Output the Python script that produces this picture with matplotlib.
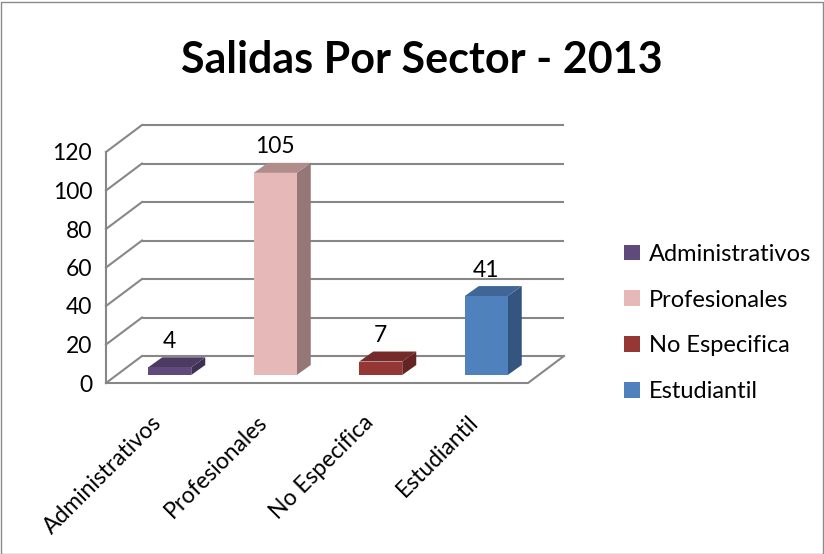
import matplotlib
matplotlib.use('Agg')
import matplotlib.pyplot as plt
from matplotlib.patches import Polygon, Patch, Rectangle

categories = ['Administrativos', 'Profesionales', 'No Especifica', 'Estudiantil']
values = [4, 105, 7, 41]
yticks = [0, 20, 40, 60, 80, 100, 120]
title = 'Salidas Por Sector - 2013'

front_colors = ['#604a7b', '#e6b9b8', '#953735', '#4f81bd']
top_colors = ['#4b3a61', '#b08c8b', '#742b2a', '#3f6696']
side_colors = ['#3f3151', '#947776', '#632423', '#345580']

plt.rcParams['font.family'] = ['Lato', 'DejaVu Sans']
W, H = 824, 554
FS = 16.5
fig = plt.figure(figsize=(W / 100, H / 100), dpi=100)
ax = fig.add_axes([106 / W, (H - 383) / H, 422 / W, 231 / H])
ax.set_xlim(-0.5, len(categories) - 0.5)
ax.set_ylim(0, 120)
for s in ax.spines.values():
    s.set_visible(False)
ax.patch.set_visible(False)
ax.set_yticks(yticks)
ax.set_yticklabels([str(t) for t in yticks], fontsize=FS)
ax.set_xticks(range(len(categories)))
ax.set_xticklabels(categories, rotation=45, ha='right', va='center',
                   rotation_mode='anchor', fontsize=FS)
ax.tick_params(axis='y', length=0, pad=10)
ax.tick_params(axis='x', length=0, pad=26)

# pixel -> data unit conversion
p0 = ax.transData.transform((0, 0))
p1 = ax.transData.transform((1, 1))
ux = 1.0 / (p1[0] - p0[0])
uy = 1.0 / (p1[1] - p0[1])

def off(px, py):
    return px * ux, py * uy

gc = '#878787'
glw = 1.5
xl, xr = -0.5, len(categories) - 0.5
bx, by = off(36, 27)

# back wall gridlines + left wall diagonals
for t in yticks:
    ax.plot([xl + bx, xr + bx], [t + by, t + by], color=gc, lw=glw, clip_on=False, zorder=1, solid_capstyle='butt')
    ax.plot([xl, xl + bx], [t, t + by], color=gc, lw=glw, clip_on=False, zorder=1)
ax.plot([xl, xl], [0, yticks[-1]], color=gc, lw=glw, clip_on=False, zorder=1)
# floor
ax.plot([xl, xr, xr + bx], [0, 0, by], color=gc, lw=glw, clip_on=False, zorder=1)

# bars
w = 43 * ux
fdx, fdy = off(11, 8)
ddx, ddy = off(14, 10)
for i, v in enumerate(values):
    x0 = i - w / 2 + fdx
    x1 = i + w / 2 + fdx
    y0 = fdy
    y1 = v + fdy
    ax.add_patch(Polygon([(x1, y0), (x1 + ddx, y0 + ddy), (x1 + ddx, y1 + ddy), (x1, y1)],
                         closed=True, fc=side_colors[i], ec='none', zorder=3, clip_on=False))
    ax.add_patch(Polygon([(x0, y1), (x1, y1), (x1 + ddx, y1 + ddy), (x0 + ddx, y1 + ddy)],
                         closed=True, fc=top_colors[i], ec='none', zorder=3, clip_on=False))
    ax.add_patch(Rectangle((x0, y0), w, v, fc=front_colors[i], ec='none', zorder=4, clip_on=False))
    ax.annotate(str(v), xy=(i + fdx, y1), xytext=(0, 26), textcoords='offset pixels',
                ha='center', va='center', fontsize=FS, zorder=5, annotation_clip=False)

fig.text(0.512, 1 - 60 / H, title, ha='center', va='center', fontsize=31, fontweight='bold')

handles = [Patch(fc=c, ec='none', label=l) for c, l in zip(front_colors, categories)]
fig.legend(handles=handles, loc='center left', bbox_to_anchor=(603 / W, 1 - 323 / H),
           frameon=False, handlelength=0.65, handleheight=0.65, handletextpad=0.4,
           labelspacing=1.05, fontsize=17)

fig.patches.append(Rectangle((0.5 / W, 0.5 / H), 1 - 2 / W, 1 - 2 / H, transform=fig.transFigure,
                             fill=False, ec='#8a8a8a', lw=1))

fig.savefig('out.png', dpi=100)
